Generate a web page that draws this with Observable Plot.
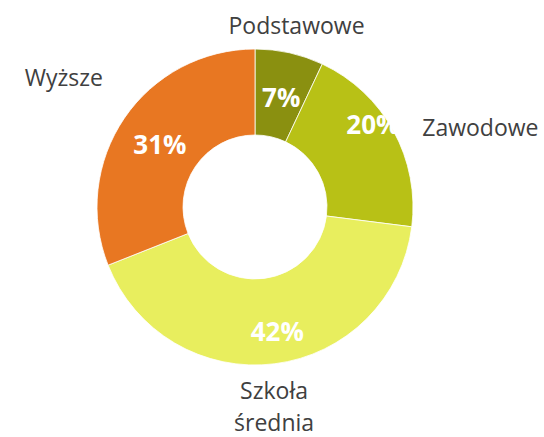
<!DOCTYPE html>
<html><head><meta charset="utf-8">
<script src="https://cdn.jsdelivr.net/npm/d3@7"></script>
<script src="https://cdn.jsdelivr.net/npm/@observablehq/plot@0.6"></script>
<style>body{margin:0;background:#fff;} svg{display:block;}</style>
</head><body><div id="chart"></div>
<script>
// ---- data ----
const categories = ["Podstawowe", "Zawodowe", "Szkoła\nśrednia", "Wyższe"];
const shares = [7, 20, 42, 31];
const colors = ["#8a9010", "#b8c116", "#e8ee5e", "#e87722"];

// ---- layout ----
const W = 544, H = 437, CX = 255, CY = 207, R = 158, R0 = 72;
const outerDist = 188, innerDist = 118;
const outerNudge = [[0, 0], [2, 9], [-5, 11], [3, -26]];
const innerNudge = [[0, 6], [14, -25], [7, 8], [2, 4]];

const rows = categories.map((c, i) => ({category: c, share: shares[i], color: colors[i]}));
const arcs = d3.pie().sort(null).value(d => d.share)(rows);

const outer = arcs.map((a, i) => {
  const m = (a.startAngle + a.endAngle) / 2;
  const s = Math.sin(m), c = Math.cos(m);
  return {
    text: a.data.category,
    x: s * outerDist + outerNudge[i][0],
    y: -c * outerDist + outerNudge[i][1],
    anchor: s > 0.3 ? "start" : s < -0.3 ? "end" : "middle"
  };
});
const inner = arcs.map((a, i) => {
  const m = (a.startAngle + a.endAngle) / 2;
  return {
    text: a.data.share + "%",
    x: Math.sin(m) * innerDist + innerNudge[i][0],
    y: -Math.cos(m) * innerDist + innerNudge[i][1]
  };
});

function donut(index, scales) {
  const x0 = scales.x(0), y0 = scales.y(0);
  const k = scales.x(1) - scales.x(0);
  const arc = d3.arc().innerRadius(R0 * k).outerRadius(R * k);
  const g = d3.create("svg:g").attr("transform", `translate(${x0},${y0})`);
  g.selectAll("path").data(arcs).join("path")
    .attr("d", arc)
    .attr("fill", d => d.data.color)
    .attr("stroke", "#ffffff")
    .attr("stroke-width", 0.8);
  return g.node();
}

const labelStyle = {fontSize: 23, fill: "#404040", lineHeight: 1.40, lineAnchor: "middle"};

const chart = Plot.plot({
  width: W, height: H, margin: 0,
  style: {fontFamily: "'Open Sans', sans-serif", background: "#fff"},
  x: {domain: [-CX, W - CX], range: [0, W], axis: null},
  y: {domain: [-CY, H - CY], range: [0, H], axis: null},
  marks: [
    donut,
    Plot.text(outer.filter(d => d.anchor === "start"), {x: "x", y: "y", text: "text", textAnchor: "start", ...labelStyle}),
    Plot.text(outer.filter(d => d.anchor === "end"), {x: "x", y: "y", text: "text", textAnchor: "end", ...labelStyle}),
    Plot.text(outer.filter(d => d.anchor === "middle"), {x: "x", y: "y", text: "text", textAnchor: "middle", ...labelStyle}),
    Plot.text(inner, {x: "x", y: "y", text: "text", fontSize: 26, fontWeight: "bold", fill: "#ffffff", lineAnchor: "middle"})
  ]
});
document.getElementById("chart").append(chart);
</script>
</body></html>
